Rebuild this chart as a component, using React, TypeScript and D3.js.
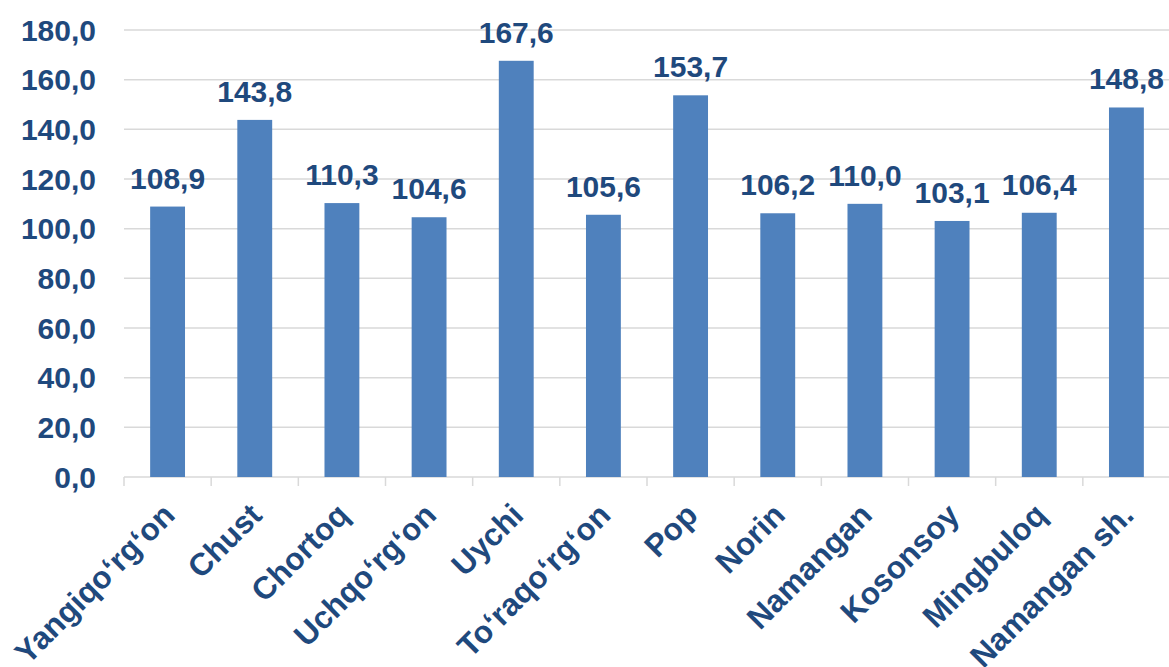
import React, { useEffect, useRef } from 'react';
import * as d3 from 'd3';

const categories = [
  'Yangiqo‘rg‘on',
  'Chust',
  'Chortoq',
  'Uchqo‘rg‘on',
  'Uychi',
  'To‘raqo‘rg‘on',
  'Pop',
  'Norin',
  'Namangan',
  'Kosonsoy',
  'Mingbuloq',
  'Namangan sh.',
];

const values = [108.9, 143.8, 110.3, 104.6, 167.6, 105.6, 153.7, 106.2, 110.0, 103.1, 106.4, 148.8];

const yTicks = [0, 20, 40, 60, 80, 100, 120, 140, 160, 180];

const WIDTH = 1169;
const HEIGHT = 667;
const FONT = '"Liberation Sans", Arial, sans-serif';
const TEXT_COLOR = '#1F497D';
const BAR_COLOR = '#4F81BD';
const GRID_COLOR = '#D9D9D9';

const fmt = (v: number) => v.toFixed(1).replace('.', ',');

const App: React.FC = () => {
  const svgRef = useRef<SVGSVGElement | null>(null);

  useEffect(() => {
    const svg = d3.select(svgRef.current);
    svg.selectAll('*').remove();

    const plot = { left: 124, right: 1170, top: 30, bottom: 477 };

    const x = d3.scaleBand<string>()
      .domain(categories)
      .range([plot.left, plot.right])
      .padding(0);

    const y = d3.scaleLinear()
      .domain([0, 180])
      .range([plot.bottom, plot.top]);

    // gridlines
    svg.append('g')
      .selectAll('line')
      .data(yTicks)
      .join('line')
      .attr('x1', plot.left)
      .attr('x2', WIDTH)
      .attr('y1', d => y(d))
      .attr('y2', d => y(d))
      .attr('stroke', GRID_COLOR)
      .attr('stroke-width', 1.5);

    // y labels
    svg.append('g')
      .selectAll('text')
      .data(yTicks)
      .join('text')
      .attr('x', 96)
      .attr('y', d => y(d) + 10.8)
      .attr('text-anchor', 'end')
      .attr('font-family', FONT)
      .attr('font-weight', 'bold')
      .attr('font-size', 30)
      .attr('fill', TEXT_COLOR)
      .text(d => fmt(d));

    // x axis ticks at category boundaries
    const bounds = categories.map(c => x(c)!).concat([plot.right]);
    svg.append('g')
      .selectAll('line')
      .data(bounds)
      .join('line')
      .attr('x1', d => d)
      .attr('x2', d => d)
      .attr('y1', plot.bottom)
      .attr('y2', plot.bottom + 9)
      .attr('stroke', GRID_COLOR)
      .attr('stroke-width', 1.5);

    const barW = x.bandwidth() * 0.4;

    // bars
    svg.append('g')
      .selectAll('rect')
      .data(values)
      .join('rect')
      .attr('x', (d, i) => x(categories[i])! + (x.bandwidth() - barW) / 2)
      .attr('y', d => y(d))
      .attr('width', barW)
      .attr('height', d => plot.bottom - y(d))
      .attr('fill', BAR_COLOR);

    // value labels
    svg.append('g')
      .selectAll('text')
      .data(values)
      .join('text')
      .attr('x', (d, i) => x(categories[i])! + x.bandwidth() / 2)
      .attr('y', d => y(d) - 18)
      .attr('text-anchor', 'middle')
      .attr('font-family', FONT)
      .attr('font-weight', 'bold')
      .attr('font-size', 30)
      .attr('fill', TEXT_COLOR)
      .text(d => fmt(d));

    // category labels, rotated
    svg.append('g')
      .selectAll('text')
      .data(categories)
      .join('text')
      .attr('transform', d => {
        const cx = x(d)! + x.bandwidth() / 2 + 9;
        const cy = plot.bottom + 40;
        return `translate(${cx},${cy}) rotate(-45)`;
      })
      .attr('text-anchor', 'end')
      .attr('font-family', FONT)
      .attr('font-weight', 'bold')
      .attr('font-size', 31.5)
      .attr('fill', TEXT_COLOR)
      .text(d => d);
  }, []);

  return (
    <svg
      ref={svgRef}
      width={WIDTH}
      height={HEIGHT}
      style={{ position: 'absolute', left: 0, top: 0, background: '#fff' }}
    />
  );
};

export default App;
